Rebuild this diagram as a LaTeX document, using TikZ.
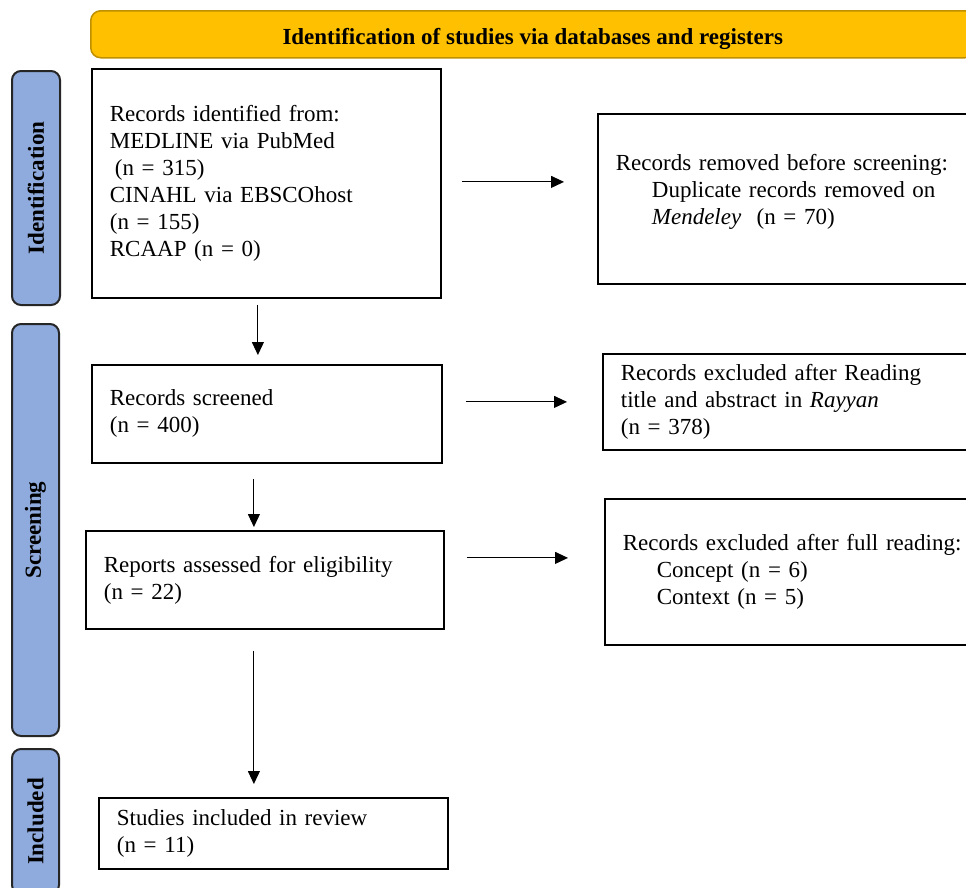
\documentclass[tikz,border=0pt]{standalone}
\usepackage{fontspec}
\setmainfont{Liberation Serif}
\usetikzlibrary{arrows.meta,calc}
\definecolor{bannerfill}{HTML}{FFC000}
\definecolor{bannerdraw}{HTML}{BF9000}
\definecolor{barfill}{HTML}{8FAADC}
\definecolor{bardraw}{HTML}{262626}
\tikzset{
  pbox/.style={draw=black, line width=1.8pt, fill=white, inner xsep=18pt, inner ysep=4pt, align=left, anchor=north west},
  phase/.style={draw=bardraw, line width=2pt, fill=barfill, rounded corners=9pt, anchor=north west, inner sep=0pt, font=\fontsize{23}{27}\selectfont\bfseries},
  banner/.style={draw=bannerdraw, line width=1.5pt, fill=bannerfill, rounded corners=10pt, anchor=north west, inner sep=0pt, font=\fontsize{23}{27}\selectfont\bfseries},
  arr/.style={line width=1pt, -{Triangle[length=13pt,width=12pt]}}
}
\begin{document}
\begin{tikzpicture}[x=1pt,y=-1pt,font=\fontsize{23}{27}\selectfont]
\clip (0,0) rectangle (966,887);
\fill[white] (0,0) rectangle (966,887);
\useasboundingbox (0,0) rectangle (966,887);

% banner
\node[banner, minimum width=884pt, minimum height=47pt] (ban) at (90,10) {\raisebox{-10pt}[0pt][0pt]{Identification of studies via databases and registers}};

% phase bars
\node[phase, minimum width=48pt, minimum height=234pt] (pid) at (11,70) {\rotatebox{90}{Identification}};
\node[phase, minimum width=47pt, minimum height=412pt] (pscr) at (11,323) {\rotatebox{90}{Screening}};
\node[phase, minimum width=47pt, minimum height=145pt] (pinc) at (11,748) {\rotatebox{90}{Included}};

% boxes
\node[pbox, minimum width=349pt, minimum height=229pt, text width=313pt] (b1) at (91,68)
  {Records identified from:\\MEDLINE via PubMed\\\hspace*{5pt}(n = 315)\\CINAHL via EBSCOhost\\(n = 155)\\RCAAP (n = 0)};
\node[pbox, minimum width=400pt, minimum height=170pt, text width=364pt] (b2) at (597,113)
  {Records removed before screening:\\\hspace*{36pt}Duplicate records removed on\\\hspace*{36pt}\emph{Mendeley}\ \ (n = 70)\\[-7pt]\mbox{}};
\node[pbox, minimum width=350pt, minimum height=98pt, text width=314pt] (b3) at (91,364)
  {Records screened\\(n = 400)};
\node[pbox, minimum width=400pt, minimum height=96pt, text width=364pt] (b4) at (602,353)
  {Records excluded after Reading\\title and abstract in \emph{Rayyan}\\(n = 378)};
\node[pbox, minimum width=358pt, minimum height=98pt, text width=322pt] (b5) at (85,530)
  {Reports assessed for eligibility\\(n = 22)};
\node[pbox, minimum width=400pt, minimum height=146pt, text width=364pt] (b6) at (604,498)
  {Records excluded after full reading:\\\hspace*{34pt}Concept (n = 6)\\\hspace*{34pt}Context (n = 5)};
\node[pbox, minimum width=349pt, minimum height=71pt, text width=313pt] (b7) at (98,797)
  {Studies included in review\\(n = 11)};

% horizontal arrows
\draw[arr, shorten <=20pt, shorten >=33pt] ([yshift=1.5pt]b1.east) -- ([yshift=1.5pt]b1.east -| b2.west);
\draw[arr, shorten <=23pt, shorten >=35pt] (b4.west -| b3.east) -- (b4.west);
\draw[arr, shorten <=22pt, shorten >=36pt] ([yshift=22pt]b5.east) -- ([yshift=22pt]b5.east -| b6.west);

% vertical arrows
\draw[arr, shorten <=6pt, shorten >=9pt] ([xshift=-8.5pt]b1.south) -- ([xshift=-8.5pt]b1.south |- b3.north);
\draw[arr, shorten <=15pt, shorten >=3pt] ([xshift=-13pt]b3.south) -- ([xshift=-13pt]b3.south |- b5.north);
\draw[arr, shorten <=21pt, shorten >=13pt] ([xshift=-11pt]b5.south) -- ([xshift=-11pt]b5.south |- b7.north);
\end{tikzpicture}
\end{document}
